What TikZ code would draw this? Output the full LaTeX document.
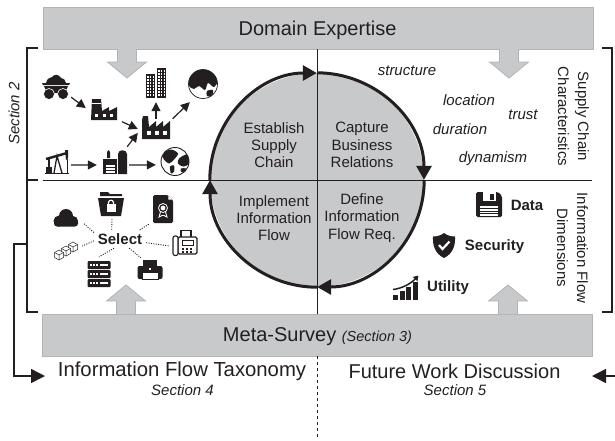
\documentclass[tikz,border=0pt]{standalone}
\usepackage{fontspec}
\setmainfont{Liberation Sans}
\usetikzlibrary{arrows.meta}

\tikzset{
    pics/minecart/.style={code={
        \fill[ink] (-10,-4) .. controls (-9,-9) and (-6,-9) .. (-4,-10) .. controls (-2,-13) and (3,-13) .. (5,-9) .. controls (8,-9) and (9,-7) .. (10,-4) -- cycle;
        \fill[ink] (-14,-4) -- (14,-4) -- (13,-2) -- (-13,-2) -- cycle;
        \fill[ink] (-12,-1) -- (12,-1) -- (9,6) -- (-9,6) -- cycle;
        \filldraw[ink, draw=white, line width=0.6pt] (-7,7) circle[radius=5.5];
        \filldraw[ink, draw=white, line width=0.6pt] (7,7) circle[radius=5.5];
    }},
    pics/factory/.style={code={
        \fill[ink] (-14,11) -- (-14,-8) -- (-13,-12) -- (-8,-12) -- (-7,-1) -- (0,-7) -- (0,-1) -- (7,-7) -- (7,-1) -- (14,-7) -- (14,11) -- cycle;
        \foreach \wx in {-9,-1,7}
            \fill[white] (\wx,3) rectangle (\wx+4,7);
    }},
    pics/plant/.style={code={
        \fill[ink] (-13,10) -- (-12,-11) -- (-3,-11) -- (-2,1) -- (5,-3) -- (5,1) -- (13,-3) -- (13,10) -- cycle;
        \fill[white] (-12.4,-7) rectangle (-2.6,-6);
        \foreach \wx in {-9,-1,6}
            \fill[white] (\wx,4) rectangle (\wx+3,7);
    }},
    pics/towers/.style={code={
        \fill[ink] (-10,-9) rectangle (-1,15);
        \fill[ink] (1,-15) rectangle (10,15);
        \foreach \wx in {-8.6,-6,-3.4} \foreach \wy in {-7,-4,...,11}
            \fill[white] (\wx,\wy) rectangle (\wx+1.4,\wy+1.6);
        \foreach \wx in {2.4,5,7.6} \foreach \wy in {-13,-10,...,11}
            \fill[white] (\wx,\wy) rectangle (\wx+1.4,\wy+1.6);
    }},
    pics/globedark/.style={code={
        \filldraw[fill=white, draw=ink, line width=0.7pt] (0,0) circle[radius=14.5];
        \begin{scope}
            \clip (0,0) circle[radius=14.5];
            \fill[ink] plot[smooth cycle] coordinates {(-15,-6) (-6,-14) (6,-15) (15,-5) (11,3) (5,-1) (2,6) (-4,2) (-9,5) (-14,2)};
            \fill[ink] plot[smooth cycle] coordinates {(4,7) (10,6) (9,12) (4,12)};
        \end{scope}
    }},
    pics/globelight/.style={code={
        \filldraw[fill=white, draw=ink, line width=0.9pt] (0,0) circle[radius=14];
        \begin{scope}
            \clip (0,0) circle[radius=14];
            \fill[ink] plot[smooth cycle] coordinates {(-13,-8) (-4,-12) (3,-8) (-1,-2) (-6,2) (-11,-2)};
            \fill[ink] plot[smooth cycle] coordinates {(4,-3) (12,-7) (14,2) (8,5) (3,2)};
            \fill[ink] plot[smooth cycle] coordinates {(-5,5) (-1,4) (-1,10) (-4,12)};
            \fill[ink] plot[smooth cycle] coordinates {(6,7) (11,7) (9,11) (6,10)};
        \end{scope}
    }},
    pics/pumpjack/.style={code={
        \draw[ink, line width=2.4pt] (-11,-3) -- (10,-9);
        \fill[ink] (8,-12) -- (11,-12) -- (11,-4) -- (9,-2) -- cycle;
        \draw[ink, line width=1pt] (10,-3) -- (10,12);
        \draw[ink, line width=1.3pt] (-3,11) -- (0,-6) -- (5,11);
        \draw[ink, line width=1.3pt] (-8,-3) -- (-8,6);
        \fill[ink] (-11,5) rectangle (-5,11);
        \fill[ink] (-12,10.5) rectangle (12,12);
    }},
    pics/refinery/.style={code={
        \fill[ink] (3,12) -- (3,-8) .. controls (3,-13) and (12,-13) .. (12,-8) -- (12,12) -- cycle;
        \fill[ink] (-12,-3) rectangle (2,12);
        \fill[ink] (-8,-4) -- (-8,-10) -- (-6.5,-12) -- (-5,-10) -- (-5,-4) -- cycle;
        \foreach \wy in {3,6,9}
            \fill[white] (-9,\wy) rectangle (0,\wy+1.6);
    }},
    pics/lockfolder/.style={code={
        \fill[ink] (-11,-12) -- (-3,-12) -- (-1,-10) -- (11,-10) -- (11,-8) -- (-11,-8) -- cycle;
        \fill[ink] (-13,-6) -- (13,-6) -- (10,12) -- (-10,12) -- cycle;
        \fill[white] (-4.5,0) rectangle (4.5,8);
        \draw[white, line width=1.2pt] (-2.5,0) -- (-2.5,-1.5) .. controls (-2.5,-4.5) and (2.5,-4.5) .. (2.5,-1.5) -- (2.5,0);
    }},
    pics/certdoc/.style={code={
        \fill[ink, rounded corners=1.5pt] (-10,-14) -- (5,-14) -- (10,-9) -- (10,14) -- (-10,14) -- cycle;
        \fill[white] (5.4,-13.6) -- (9.6,-9.4) -- (5.4,-9.4) -- cycle;
        \draw[white, line width=0.8pt] (0,-1) circle[radius=4.5];
        \fill[white] (0,-1) circle[radius=2.4];
        \draw[white, line width=0.9pt] (-2.5,3) -- (-4,8) -- (-1,6.5) -- (1,6.5) -- (4,8) -- (2.5,3);
    }},
    pics/cloudicon/.style={code={
        \fill[ink] (-7,3) circle[radius=5.5];
        \fill[ink] (0,-2) circle[radius=7];
        \fill[ink] (7,3) circle[radius=5];
        \fill[ink, rounded corners=3pt] (-12,1) rectangle (12,8.5);
    }},
    pics/faxicon/.style={code={
        \filldraw[fill=white, draw=ink, line width=1.1pt] (-4,-12.5) rectangle (6,-5);
        \filldraw[fill=white, draw=ink, line width=1.1pt, rounded corners=1.5pt] (-7,-6) rectangle (12,11);
        \filldraw[fill=white, draw=ink, line width=1.1pt, rounded corners=2pt] (-12,-7) rectangle (-7,12.5);
        \draw[ink, line width=0.9pt] (-3,-3) rectangle (8,2);
        \foreach \kx in {-3,1,5} \foreach \ky in {5,8}
            \fill[ink] (\kx,\ky) rectangle (\kx+2.4,\ky+1.6);
    }},
    pics/cubes/.style={code={
        \foreach \kx/\ky in {7/-4,0/0,-7/4} {
            \filldraw[fill=white, draw=ink, line width=0.5pt] (\kx,\ky-5) -- (\kx+4.5,\ky-2.5) -- (\kx+4.5,\ky+2.5) -- (\kx,\ky+5) -- (\kx-4.5,\ky+2.5) -- (\kx-4.5,\ky-2.5) -- cycle;
            \draw[ink, line width=0.5pt] (\kx-4.5,\ky-2.5) -- (\kx,\ky) -- (\kx+4.5,\ky-2.5) (\kx,\ky) -- (\kx,\ky+5);
        }
    }},
    pics/serverrack/.style={code={
        \foreach \ky in {-13,-4,5} {
            \fill[ink, rounded corners=1pt] (-11.5,\ky) rectangle (11.5,\ky+8);
            \fill[white] (1,\ky+3.2) rectangle (9,\ky+4.6);
            \foreach \kx in {-9,-6,-3}
                \fill[white] (\kx,\ky+2.8) rectangle (\kx+1.8,\ky+5);
        }
    }},
    pics/printericon/.style={code={
        \fill[ink] (-7,-10) rectangle (7,-4);
        \fill[ink, rounded corners=2pt] (-12.5,-4) rectangle (12.5,9);
        \filldraw[fill=white, draw=ink, line width=0.8pt] (-8,2) rectangle (8,9.5);
        \fill[white] (-0.8,-1.6) rectangle (0.8,-0.2);
    }},
    pics/floppy/.style={code={
        \fill[ink, rounded corners=1.5pt] (-13,-12.5) -- (9,-12.5) -- (13,-8.5) -- (13,12.5) -- (-13,12.5) -- cycle;
        \fill[white] (-6.5,-12.5) rectangle (6.5,-3.5);
        \fill[ink] (1,-11) rectangle (4.5,-5);
        \fill[white] (-9,1.5) rectangle (9,11);
        \foreach \ky in {3.5,6,8.5}
            \fill[ink] (-9,\ky) rectangle (9,\ky+0.9);
    }},
    pics/shieldicon/.style={code={
        \fill[ink] (0,-12.5) .. controls (3,-10) and (7,-9) .. (11,-9) .. controls (11.5,0) and (9,8) .. (0,12.5) .. controls (-9,8) and (-11.5,0) .. (-11,-9) .. controls (-7,-9) and (-3,-10) .. cycle;
        \draw[white, line width=2.2pt] (-5,-0.5) -- (-1.5,3.5) -- (5.5,-4);
    }},
    pics/chartup/.style={code={
        \foreach \kx/\ky in {-13/7,-6.5/3,0/-1,6.5/-6}
            \fill[ink] (\kx,\ky) rectangle (\kx+5,12.5);
        \draw[ink, line width=1.5pt, -{Triangle[length=5pt,width=6pt]}] (-13,2) .. controls (-4,1) and (5,-4) .. (12.5,-12);
    }}
}

\begin{document}
\begin{tikzpicture}[x=1pt, y=-1pt]
    \definecolor{ink}{HTML}{231F20}
    \definecolor{boxgray}{HTML}{C8C9CB}
    \definecolor{boxedge}{HTML}{B2B3B5}

    \tikzstyle{bigbox}  = [draw=boxedge, fill=boxgray, line width=0.8pt, inner sep=0pt, minimum width=550pt, text=ink]
    \tikzstyle{headtxt} = [font=\fontsize{20}{24}\selectfont, text=ink, inner sep=0pt]
    \tikzstyle{lbl}     = [font=\fontsize{15}{17.3}\selectfont, text=ink, inner sep=0pt, align=center]
    \tikzstyle{sidelbl} = [font=\fontsize{15}{20}\selectfont, text=ink, inner sep=0pt, align=center, rotate=-90]
    \tikzstyle{word}    = [font=\fontsize{15}{17}\itshape\selectfont, text=ink, inner sep=0pt]
    \tikzstyle{dimlbl}  = [font=\fontsize{15}{17}\bfseries\selectfont, text=ink, inner sep=0pt]
    \tikzstyle{spot}    = [inner sep=0pt]
    \tikzstyle{flow}    = [draw=ink, line width=1.2pt, -{Triangle[length=9pt,width=9pt]}]
    \tikzstyle{picked}  = [draw=ink, line width=0.9pt, dash pattern=on 1pt off 1.4pt]
    \tikzstyle{brk}     = [draw=ink, line width=1.5pt]
    \tikzstyle{feed}    = [draw=ink, line width=1.5pt, -{Triangle[length=14pt,width=14pt]}]
    \tikzstyle{quarter} = [draw=ink, line width=3pt, -{Triangle[length=14pt,width=15pt]}]
    \tikzstyle{axis}    = [draw=ink, line width=0.9pt]

    \useasboundingbox (0,0) rectangle (615,440);

    % Boxes and the block arrows
    \node[bigbox, minimum height=42pt] (domain) at (318,28) {};
    \node[bigbox, minimum height=42pt] (meta) at (317,335) {};
    \foreach \bx/\by/\dy in {127/49/1, 509/49/1, 126/314/-1, 508/314/-1}
        \filldraw[draw=boxedge, fill=boxgray, line width=0.8pt] (\bx-9.5,\by) -- (\bx-9.5,\by+13*\dy) -- (\bx-19.5,\by+13*\dy) -- (\bx,\by+29*\dy) -- (\bx+19.5,\by+13*\dy) -- (\bx+9.5,\by+13*\dy) -- (\bx+9.5,\by);
    \node[headtxt] (domaint) at (317.5,30) {Domain Expertise};
    \node[headtxt] (metat) at (317.5,337) {Meta-Survey {\fontsize{14.5}{17}\itshape\selectfont (Section 3)}};

    % The cycle
    \node[circle, fill=boxgray, inner sep=0pt, minimum size=214pt] (loop) at (317,180) {};
    \draw[quarter] (loop.west) arc[start angle=180, end angle=270, radius=107];
    \draw[quarter] (loop.north) arc[start angle=270, end angle=360, radius=107];
    \draw[quarter] (loop.east) arc[start angle=0, end angle=90, radius=107];
    \draw[quarter] (loop.south) arc[start angle=90, end angle=180, radius=107];
    \draw[axis] (domain.south -| loop) -- (meta.north -| loop);
    \draw[axis] (domain.west |- loop) -- (meta.east |- loop);
    \node[lbl] (est) at (274,145) {Establish\\Supply\\Chain};
    \node[lbl] (cap) at (362,145) {Capture\\Business\\Relations};
    \node[lbl] (imp) at (274,218) {Implement\\Information\\Flow};
    \node[lbl] (def) at (362,218) {Define\\Information\\Flow Req.};

    % Brackets and the feedback lines
    \coordinate (leftmid) at (27,244);
    \coordinate (rightend) at (615,376);
    \coordinate (taxin) at (45,376);
    \coordinate (futin) at (592,376);
    \coordinate (dashend) at (317,440);
    \draw[brk] (38,48) -- (27,48) -- (27,312) -- (38,312);
    \draw[brk] (27,180) -- (38,180);
    \draw[brk] (602,48) -- (612,48) -- (612,312) -- (602,312);
    \draw[feed] (leftmid) -- (14,244) |- (taxin);
    \draw[feed] (rightend) -- (futin);
    \draw[axis, dashed] (meta.south -| loop) -- (dashend);

    % Supply chain icons
    \foreach \nam/\px/\py/\bw/\bh in {
            cart/56/87/30/20,
            fac1/104/110/36/23,
            fac2/156/128/36/18,
            tower/156/83/20/38,
            globea/203/84/26/36,
            pump/57/162/28/20,
            ref/113/160/32/26,
            globeb/175/161.5/38/28
    } {
        \node[spot, minimum width=\bw pt, minimum height=\bh pt] (\nam) at (\px,\py) {};
    }
    \pic at (56,87) {minecart};
    \pic at (104,110) {plant};
    \pic at (156,128) {factory};
    \pic at (156,83) {towers};
    \pic at (203,84) {globedark};
    \pic at (57,162) {pumpjack};
    \pic at (115,162) {refinery};
    \pic at (175,161.5) {globelight};
    \draw[flow] (cart.-34) -- (fac1.174);
    \draw[flow] (fac1.-33) -- (fac2.183);
    \draw[flow] (fac2.90) -- (tower.-90);
    \draw[flow] (fac2.29) -- (globea.234);
    \draw[flow] (pump.-12) -- (ref.197);
    \draw[flow] (ref.-17) -- (globeb.190);
    \draw[flow] (ref.43) -- (fac2.195);

    % Select and the things around it
    \node[dimlbl, minimum width=52pt, minimum height=18pt] (select) at (120,239) {Select};
    \foreach \nam/\px/\py/\bw/\bh/\ang/\tang in {
            folder/111/204/26/28/132/-86,
            cert/163/209/28/30/25/227,
            cloud/66/218/34/18/166.5/-16,
            blocks/66/251/32/20/184.6/17,
            fax/185/243/32/26/-8.7/190.6,
            server/99/274/24/34/237/90,
            printer/150/270/28/24/-45/127
    } {
        \node[spot, minimum width=\bw pt, minimum height=\bh pt] (\nam) at (\px,\py) {};
        \draw[picked] (select.\ang) -- (\nam.\tang);
    }
    \pic at (111,204) {lockfolder};
    \pic at (163,209) {certdoc};
    \pic at (66,218) {cloudicon};
    \pic at (66,251) {cubes};
    \pic at (185,243) {faxicon};
    \pic at (99,274) {serverrack};
    \pic at (150,270) {printericon};

    % Right half
    \node[word] (w1) at (407,71) {structure};
    \node[word] (w2) at (469,100) {location};
    \node[word] (w3) at (523,115) {trust};
    \node[word] (w4) at (460,129) {duration};
    \node[word] (w5) at (493,159) {dynamism};
    \node[sidelbl] (chars) at (573.5,116.5) {Supply Chain\\Characteristics};
    \node[sidelbl] (dims) at (572.5,248) {Information Flow\\Dimensions};
    \pic at (489,204.5) {floppy};
    \pic at (444,245.5) {shieldicon};
    \pic at (406,287.5) {chartup};
    \node[dimlbl] (data) at (527,205) {Data};
    \node[dimlbl] (sec) at (494.5,247) {Security};
    \node[dimlbl] (util) at (448,288) {Utility};

    % Outputs
    \node[word, rotate=90] (sec2) at (14,113.5) {Section 2};
    \node[headtxt, font=\fontsize{20.3}{24}\selectfont] (taxo) at (182,371) {Information Flow Taxonomy};
    \node[headtxt] (fut) at (454.5,371) {Future Work Discussion};
    \node[word] (sec4) at (182.5,390) {Section 4};
    \node[word] (sec5) at (455,390) {Section 5};
\end{tikzpicture}
\end{document}
